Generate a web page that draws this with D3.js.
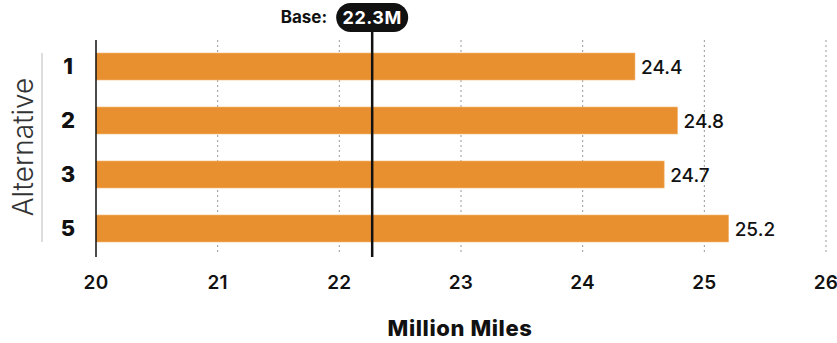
<!DOCTYPE html>
<html>
<head>
<meta charset="utf-8">
<script src="https://cdn.jsdelivr.net/npm/d3@7"></script>
<style>
  body { margin: 0; background: #fff; }
  text { font-family: Inter, "Noto Sans", sans-serif; fill: #111; }
</style>
</head>
<body>
<div id="root"></div>
<script>
const alternatives = ["1", "2", "3", "5"]
const milesValues = [24.43, 24.78, 24.67, 25.2]
const xTicks = [20, 21, 22, 23, 24, 25, 26]
const baseValue = 22.27
const baseLabel = "22.3M"

function drawChart() {
  const width = 837
  const height = 343
  const margin = { top: 40, right: 11, bottom: 87, left: 96 }

  const data = alternatives.map((a, i) => ({ alt: a, value: milesValues[i] }))

  const svg = d3.select("#root").append("svg")
    .attr("width", width)
    .attr("height", height)

  const xScale = d3.scaleLinear()
    .domain([20, 26])
    .range([margin.left, width - margin.right])

  const yScale = d3.scaleBand()
    .domain(alternatives)
    .range([39.5, 255.5])
    .paddingInner(0.5)
    .paddingOuter(0.25)

  // dotted grid
  svg.append("g")
    .selectAll("line")
    .data(xTicks.slice(1))
    .join("line")
    .attr("x1", d => xScale(d))
    .attr("x2", d => xScale(d))
    .attr("y1", 40)
    .attr("y2", 254)
    .attr("stroke", "#999")
    .attr("stroke-width", 1)
    .attr("stroke-dasharray", "2 3")

  // bars
  svg.append("g")
    .selectAll("rect")
    .data(data)
    .join("rect")
    .attr("x", xScale(20))
    .attr("y", d => yScale(d.alt))
    .attr("width", d => xScale(d.value) - xScale(20))
    .attr("height", yScale.bandwidth())
    .attr("fill", "#e8902f")
    .attr("stroke", "#f2b877")
    .attr("stroke-width", 0.6)

  // value labels
  svg.append("g")
    .selectAll("text")
    .data(data)
    .join("text")
    .attr("x", d => xScale(d.value) + 6)
    .attr("y", d => yScale(d.alt) + yScale.bandwidth() / 2 + 1)
    .attr("dy", "0.35em")
    .style("font-size", "19px")
    .style("font-weight", 500)
    .text(d => d3.format(".1f")(d.value))

  // left axis line
  svg.append("line")
    .attr("x1", xScale(20)).attr("x2", xScale(20))
    .attr("y1", 40).attr("y2", 257)
    .attr("stroke", "#111")
    .attr("stroke-width", 1.5)

  // category labels
  svg.append("g")
    .selectAll("text")
    .data(alternatives)
    .join("text")
    .attr("x", 68)
    .attr("y", d => yScale(d) + yScale.bandwidth() / 2)
    .attr("dy", "0.36em")
    .attr("text-anchor", "middle")
    .style("font-size", "22px")
    .style("font-weight", 800)
    .text(d => d)

  // y title + separator
  svg.append("line")
    .attr("x1", 42).attr("x2", 42)
    .attr("y1", 53).attr("y2", 242)
    .attr("stroke", "#bbb")
    .attr("stroke-width", 1)

  svg.append("text")
    .attr("transform", "translate(33, 147) rotate(-90)")
    .attr("text-anchor", "middle")
    .style("font-size", "28px")
    .style("font-weight", 300)
    .style("fill", "#333")
    .text("Alternative")

  // x tick labels
  svg.append("g")
    .selectAll("text")
    .data(xTicks)
    .join("text")
    .attr("x", d => xScale(d))
    .attr("y", 282)
    .attr("dy", "0.35em")
    .attr("text-anchor", "middle")
    .style("font-size", "19px")
    .style("font-weight", 600)
    .style("letter-spacing", "0.3px")
    .text(d => d)

  svg.append("text")
    .attr("x", 460)
    .attr("y", 328)
    .attr("dy", "0.35em")
    .attr("text-anchor", "middle")
    .style("font-size", "22px")
    .style("font-weight", 800)
    .style("letter-spacing", "0.6px")
    .text("Million Miles")

  // base line with pill
  const bx = xScale(baseValue)
  svg.append("line")
    .attr("x1", bx).attr("x2", bx)
    .attr("y1", 30).attr("y2", 257)
    .attr("stroke", "#111")
    .attr("stroke-width", 2.5)

  svg.append("rect")
    .attr("x", bx - 36)
    .attr("y", 3)
    .attr("width", 72)
    .attr("height", 29)
    .attr("rx", 14.5)
    .attr("fill", "#111")

  svg.append("text")
    .attr("x", bx)
    .attr("y", 17.5)
    .attr("dy", "0.35em")
    .attr("text-anchor", "middle")
    .style("font-size", "18px")
    .style("font-weight", 700)
    .style("letter-spacing", "0.5px")
    .style("fill", "#fff")
    .text(baseLabel)

  svg.append("text")
    .attr("x", bx - 45)
    .attr("y", 17.5)
    .attr("dy", "0.35em")
    .attr("text-anchor", "end")
    .style("font-size", "17px")
    .style("font-weight", 700)
    .text("Base:")
}

drawChart()
</script>
</body>
</html>
